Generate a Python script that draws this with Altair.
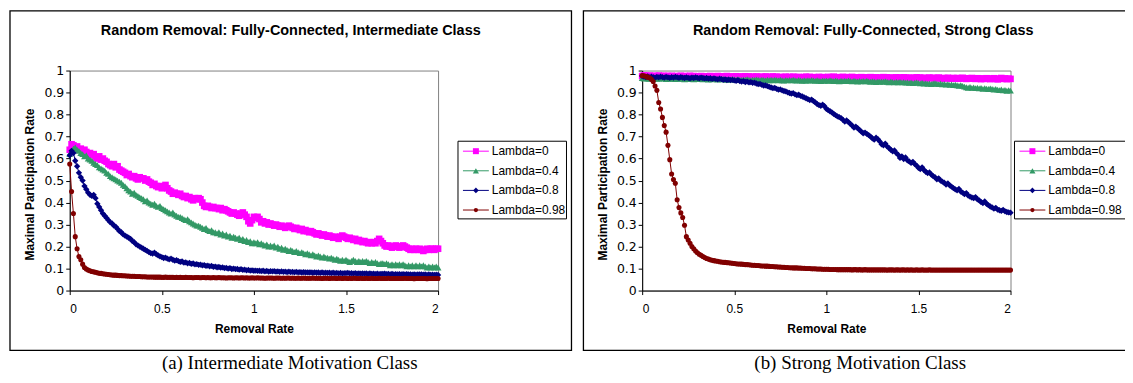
import altair as alt
import pandas as pd

# ---------------- data ----------------
REMOVAL_RATE = [round(i * 0.01, 2) for i in range(201)]
SERIES = ["Lambda=0", "Lambda=0.4", "Lambda=0.8", "Lambda=0.98"]
COLORS = ["#FF00FF", "#339966", "#000080", "#800000"]
SHAPES = ["square", "triangle-up", "diamond", "circle"]
SIZES = [44, 46, 40, 26]
Y_TICKS = [0, 0.1, 0.2, 0.3, 0.4, 0.5, 0.6, 0.7, 0.8, 0.9, 1]
X_TICKS = [0, 0.5, 1, 1.5, 2]
TITLES = ["Random Removal: Fully-Connected, Intermediate Class",
          "Random Removal: Fully-Connected, Strong Class"]
CAPTIONS = ["(a) Intermediate Motivation Class", "(b) Strong Motivation Class"]

INTER_L0 = [
    0.64, 0.665, 0.66, 0.65, 0.655, 0.64, 0.645, 0.635, 0.64, 0.63,
    0.62, 0.625, 0.615, 0.62, 0.605, 0.60, 0.61, 0.595, 0.60, 0.59,
    0.585, 0.575, 0.57, 0.565, 0.575, 0.56, 0.565, 0.55, 0.545, 0.54,
    0.535, 0.525, 0.53, 0.52, 0.515, 0.52, 0.51, 0.505, 0.515, 0.51,
    0.51, 0.50, 0.505, 0.495, 0.49, 0.48, 0.485, 0.475, 0.47, 0.475,
    0.465, 0.47, 0.48, 0.465, 0.455, 0.45, 0.44, 0.445, 0.44, 0.435,
    0.44, 0.43, 0.425, 0.43, 0.42, 0.425, 0.415, 0.41, 0.42, 0.415,
    0.42, 0.415, 0.40, 0.385, 0.38, 0.385, 0.38, 0.375, 0.38, 0.375,
    0.375, 0.37, 0.375, 0.365, 0.37, 0.365, 0.36, 0.355, 0.35, 0.355,
    0.35, 0.345, 0.34, 0.35, 0.355, 0.345, 0.335, 0.315, 0.305, 0.32,
    0.335, 0.33, 0.335, 0.325, 0.31, 0.315, 0.305, 0.31, 0.30, 0.305,
    0.30, 0.295, 0.30, 0.295, 0.29, 0.295, 0.29, 0.285, 0.29, 0.295,
    0.29, 0.285, 0.28, 0.285, 0.28, 0.275, 0.28, 0.27, 0.275, 0.27,
    0.265, 0.27, 0.265, 0.26, 0.255, 0.26, 0.255, 0.25, 0.255, 0.25,
    0.245, 0.25, 0.245, 0.24, 0.245, 0.24, 0.235, 0.245, 0.25, 0.245,
    0.24, 0.235, 0.24, 0.235, 0.23, 0.235, 0.225, 0.23, 0.225, 0.22,
    0.225, 0.22, 0.215, 0.22, 0.215, 0.22, 0.215, 0.225, 0.235, 0.225,
    0.215, 0.205, 0.20, 0.205, 0.20, 0.195, 0.20, 0.205, 0.20, 0.195,
    0.20, 0.205, 0.20, 0.195, 0.19, 0.185, 0.19, 0.185, 0.19, 0.185,
    0.19, 0.185, 0.18, 0.185, 0.19, 0.185, 0.19, 0.19, 0.185, 0.19,
    0.19,
]
INTER_L4 = [
    0.62, 0.63, 0.645, 0.65, 0.64, 0.635, 0.625, 0.62, 0.61, 0.615,
    0.60, 0.595, 0.59, 0.58, 0.575, 0.57, 0.56, 0.555, 0.55, 0.545,
    0.535, 0.53, 0.52, 0.515, 0.51, 0.505, 0.50, 0.495, 0.49, 0.48,
    0.475, 0.465, 0.455, 0.45, 0.44, 0.445, 0.435, 0.43, 0.425, 0.42,
    0.415, 0.405, 0.41, 0.40, 0.395, 0.39, 0.395, 0.385, 0.38, 0.385,
    0.375, 0.37, 0.365, 0.36, 0.355, 0.35, 0.355, 0.345, 0.34, 0.335,
    0.335, 0.33, 0.325, 0.32, 0.325, 0.315, 0.31, 0.305, 0.30, 0.295,
    0.295, 0.29, 0.285, 0.28, 0.285, 0.275, 0.27, 0.275, 0.265, 0.265,
    0.26, 0.265, 0.255, 0.26, 0.25, 0.255, 0.245, 0.25, 0.24, 0.245,
    0.24, 0.235, 0.24, 0.23, 0.235, 0.225, 0.23, 0.22, 0.225, 0.215,
    0.22, 0.215, 0.22, 0.21, 0.215, 0.21, 0.205, 0.21, 0.20, 0.205,
    0.20, 0.205, 0.195, 0.20, 0.19, 0.195, 0.185, 0.19, 0.185, 0.18,
    0.185, 0.18, 0.175, 0.18, 0.175, 0.17, 0.175, 0.17, 0.165, 0.17,
    0.165, 0.16, 0.165, 0.16, 0.155, 0.16, 0.155, 0.15, 0.155, 0.15,
    0.15, 0.145, 0.15, 0.145, 0.14, 0.145, 0.14, 0.135, 0.14, 0.135,
    0.14, 0.135, 0.13, 0.135, 0.14, 0.135, 0.13, 0.135, 0.13, 0.135,
    0.13, 0.135, 0.13, 0.125, 0.13, 0.125, 0.13, 0.125, 0.12, 0.125,
    0.125, 0.12, 0.125, 0.12, 0.115, 0.12, 0.115, 0.12, 0.115, 0.12,
    0.115, 0.12, 0.115, 0.11, 0.115, 0.11, 0.115, 0.11, 0.115, 0.11,
    0.115, 0.11, 0.115, 0.11, 0.105, 0.11, 0.105, 0.11, 0.105, 0.11,
    0.105,
]
INTER_L8 = [
    0.615, 0.635, 0.625, 0.59, 0.565, 0.535, 0.515, 0.50, 0.475, 0.46,
    0.445, 0.435, 0.43, 0.435, 0.42, 0.395, 0.38, 0.365, 0.35, 0.34,
    0.33, 0.32, 0.31, 0.305, 0.295, 0.29, 0.28, 0.27, 0.265, 0.255,
    0.25, 0.245, 0.24, 0.235, 0.225, 0.22, 0.21, 0.205, 0.20, 0.195,
    0.19, 0.185, 0.18, 0.175, 0.17, 0.168, 0.172, 0.165, 0.16, 0.155,
    0.152, 0.148, 0.15, 0.145, 0.142, 0.145, 0.14, 0.136, 0.138, 0.134,
    0.13, 0.132, 0.127, 0.128, 0.124, 0.126, 0.121, 0.123, 0.119, 0.12,
    0.117, 0.118, 0.114, 0.116, 0.112, 0.113, 0.11, 0.112, 0.108, 0.109,
    0.106, 0.107, 0.104, 0.105, 0.102, 0.103, 0.10, 0.102, 0.098, 0.10,
    0.097, 0.098, 0.095, 0.097, 0.094, 0.095, 0.092, 0.094, 0.091, 0.092,
    0.09, 0.091, 0.089, 0.09, 0.088, 0.09, 0.087, 0.089, 0.086, 0.088,
    0.087, 0.088, 0.086, 0.087, 0.085, 0.087, 0.085, 0.086, 0.084, 0.086,
    0.084, 0.085, 0.083, 0.085, 0.083, 0.084, 0.082, 0.084, 0.082, 0.083,
    0.082, 0.083, 0.081, 0.083, 0.081, 0.082, 0.08, 0.082, 0.08, 0.081,
    0.08, 0.081, 0.079, 0.081, 0.079, 0.08, 0.078, 0.08, 0.078, 0.079,
    0.079, 0.08, 0.078, 0.079, 0.077, 0.079, 0.077, 0.078, 0.077, 0.078,
    0.077, 0.078, 0.076, 0.078, 0.076, 0.077, 0.075, 0.077, 0.075, 0.076,
    0.076, 0.077, 0.075, 0.076, 0.074, 0.076, 0.074, 0.075, 0.074, 0.075,
    0.074, 0.075, 0.073, 0.075, 0.073, 0.074, 0.072, 0.074, 0.072, 0.073,
    0.073, 0.074, 0.072, 0.073, 0.071, 0.073, 0.071, 0.072, 0.071, 0.072,
    0.071,
]
INTER_L98 = [
    0.575, 0.45, 0.35, 0.245, 0.19, 0.155, 0.14, 0.12, 0.105, 0.098,
    0.093, 0.09, 0.087, 0.085, 0.083, 0.081, 0.079, 0.078, 0.076, 0.075,
    0.074, 0.073, 0.072, 0.071, 0.07, 0.07, 0.069, 0.068, 0.068, 0.067,
    0.067, 0.066, 0.066, 0.065, 0.065, 0.065, 0.064, 0.064, 0.064, 0.063,
    0.063, 0.063, 0.062, 0.062, 0.062, 0.062, 0.061, 0.061, 0.061, 0.061,
    0.06, 0.06, 0.061, 0.06, 0.06, 0.06, 0.06, 0.059, 0.06, 0.059,
    0.06, 0.059, 0.059, 0.06, 0.059, 0.059, 0.059, 0.058, 0.059, 0.059,
    0.059, 0.058, 0.059, 0.059, 0.058, 0.059, 0.058, 0.058, 0.059, 0.058,
    0.058, 0.059, 0.058, 0.058, 0.058, 0.057, 0.058, 0.058, 0.058, 0.057,
    0.058, 0.058, 0.057, 0.058, 0.058, 0.057, 0.058, 0.057, 0.057, 0.058,
    0.057, 0.057, 0.058, 0.057, 0.057, 0.057, 0.056, 0.057, 0.057, 0.057,
    0.057, 0.056, 0.057, 0.057, 0.057, 0.056, 0.057, 0.056, 0.057, 0.057,
    0.056, 0.057, 0.056, 0.056, 0.057, 0.056, 0.056, 0.057, 0.056, 0.056,
    0.056, 0.056, 0.057, 0.056, 0.056, 0.056, 0.056, 0.055, 0.056, 0.056,
    0.056, 0.055, 0.056, 0.056, 0.056, 0.055, 0.056, 0.056, 0.055, 0.056,
    0.056, 0.055, 0.056, 0.055, 0.056, 0.056, 0.055, 0.055, 0.056, 0.055,
    0.055, 0.056, 0.055, 0.055, 0.056, 0.055, 0.055, 0.055, 0.056, 0.055,
    0.055, 0.055, 0.055, 0.056, 0.055, 0.055, 0.055, 0.055, 0.055, 0.055,
    0.055, 0.055, 0.056, 0.055, 0.055, 0.055, 0.055, 0.054, 0.055, 0.055,
    0.055, 0.055, 0.055, 0.055, 0.054, 0.055, 0.055, 0.055, 0.055, 0.055,
    0.055,
]

STRONG_L0 = [
    0.975, 0.978, 0.976, 0.974, 0.977, 0.975, 0.973, 0.976, 0.974, 0.977,
    0.975, 0.972, 0.976, 0.974, 0.975, 0.973, 0.976, 0.974, 0.972, 0.975,
    0.974, 0.976, 0.973, 0.975, 0.972, 0.974, 0.976, 0.973, 0.975, 0.972,
    0.974, 0.972, 0.975, 0.973, 0.971, 0.974, 0.972, 0.975, 0.973, 0.971,
    0.973, 0.975, 0.972, 0.974, 0.971, 0.973, 0.975, 0.972, 0.970, 0.973,
    0.972, 0.974, 0.971, 0.973, 0.970, 0.972, 0.974, 0.971, 0.973, 0.970,
    0.972, 0.970, 0.973, 0.971, 0.969, 0.972, 0.970, 0.973, 0.971, 0.969,
    0.971, 0.973, 0.970, 0.972, 0.969, 0.971, 0.968, 0.970, 0.972, 0.969,
    0.971, 0.969, 0.972, 0.970, 0.968, 0.971, 0.969, 0.967, 0.970, 0.972,
    0.969, 0.971, 0.968, 0.970, 0.967, 0.969, 0.971, 0.968, 0.970, 0.967,
    0.969, 0.971, 0.968, 0.970, 0.972, 0.969, 0.967, 0.970, 0.968, 0.971,
    0.968, 0.970, 0.967, 0.969, 0.971, 0.968, 0.966, 0.969, 0.967, 0.970,
    0.968, 0.966, 0.969, 0.967, 0.970, 0.968, 0.966, 0.969, 0.967, 0.965,
    0.968, 0.970, 0.967, 0.969, 0.966, 0.968, 0.965, 0.967, 0.969, 0.966,
    0.968, 0.966, 0.969, 0.967, 0.965, 0.968, 0.966, 0.964, 0.967, 0.969,
    0.966, 0.968, 0.965, 0.967, 0.964, 0.966, 0.968, 0.965, 0.967, 0.964,
    0.966, 0.968, 0.965, 0.963, 0.966, 0.964, 0.967, 0.965, 0.963, 0.966,
    0.964, 0.966, 0.963, 0.965, 0.967, 0.964, 0.962, 0.965, 0.963, 0.966,
    0.964, 0.962, 0.965, 0.963, 0.961, 0.964, 0.962, 0.965, 0.963, 0.961,
    0.963, 0.965, 0.962, 0.960, 0.963, 0.966, 0.962, 0.964, 0.961, 0.963,
    0.962,
]
STRONG_L4 = [
    0.966, 0.963, 0.967, 0.964, 0.962, 0.966, 0.963, 0.965, 0.962, 0.964,
    0.966, 0.963, 0.965, 0.961, 0.964, 0.962, 0.965, 0.963, 0.961, 0.964,
    0.962, 0.965, 0.963, 0.960, 0.963, 0.961, 0.964, 0.962, 0.960, 0.963,
    0.961, 0.964, 0.962, 0.960, 0.963, 0.961, 0.959, 0.962, 0.960, 0.963,
    0.961, 0.959, 0.962, 0.960, 0.963, 0.960, 0.958, 0.961, 0.959, 0.962,
    0.960, 0.958, 0.961, 0.959, 0.957, 0.960, 0.958, 0.961, 0.958, 0.956,
    0.959, 0.957, 0.960, 0.958, 0.956, 0.959, 0.957, 0.955, 0.958, 0.956,
    0.958, 0.956, 0.959, 0.957, 0.955, 0.958, 0.956, 0.954, 0.957, 0.955,
    0.957, 0.955, 0.958, 0.956, 0.954, 0.957, 0.955, 0.953, 0.956, 0.954,
    0.956, 0.954, 0.957, 0.955, 0.953, 0.956, 0.954, 0.952, 0.955, 0.953,
    0.955, 0.953, 0.956, 0.954, 0.952, 0.955, 0.953, 0.951, 0.954, 0.952,
    0.954, 0.952, 0.955, 0.953, 0.951, 0.954, 0.952, 0.950, 0.953, 0.951,
    0.953, 0.951, 0.954, 0.951, 0.949, 0.952, 0.950, 0.948, 0.951, 0.949,
    0.951, 0.949, 0.952, 0.949, 0.947, 0.950, 0.948, 0.946, 0.949, 0.947,
    0.949, 0.946, 0.948, 0.945, 0.947, 0.944, 0.946, 0.943, 0.945, 0.947,
    0.944, 0.942, 0.945, 0.941, 0.943, 0.940, 0.942, 0.939, 0.941, 0.943,
    0.940, 0.938, 0.941, 0.937, 0.939, 0.936, 0.938, 0.935, 0.937, 0.934,
    0.936, 0.933, 0.931, 0.934, 0.930, 0.927, 0.924, 0.922, 0.925, 0.921,
    0.923, 0.920, 0.922, 0.919, 0.921, 0.917, 0.920, 0.918, 0.916, 0.919,
    0.917, 0.914, 0.916, 0.913, 0.911, 0.914, 0.910, 0.912, 0.908, 0.911,
    0.909,
]
STRONG_L8 = [
    0.975, 0.972, 0.970, 0.973, 0.969, 0.972, 0.970, 0.968, 0.971, 0.969,
    0.972, 0.970, 0.968, 0.971, 0.969, 0.967, 0.970, 0.968, 0.971, 0.969,
    0.967, 0.970, 0.968, 0.966, 0.969, 0.967, 0.965, 0.968, 0.966, 0.969,
    0.967, 0.965, 0.968, 0.966, 0.964, 0.966, 0.963, 0.965, 0.962, 0.964,
    0.962, 0.960, 0.963, 0.961, 0.958, 0.960, 0.957, 0.959, 0.956, 0.958,
    0.955, 0.953, 0.956, 0.952, 0.950, 0.952, 0.948, 0.950, 0.946, 0.947,
    0.944, 0.945, 0.941, 0.938, 0.939, 0.935, 0.932, 0.933, 0.929, 0.926,
    0.923, 0.920, 0.921, 0.917, 0.913, 0.914, 0.910, 0.907, 0.905, 0.901,
    0.898, 0.895, 0.897, 0.892, 0.888, 0.890, 0.885, 0.882, 0.878, 0.874,
    0.870, 0.866, 0.868, 0.861, 0.855, 0.848, 0.843, 0.840, 0.845, 0.838,
    0.826, 0.820, 0.815, 0.810, 0.803, 0.797, 0.792, 0.788, 0.784, 0.776,
    0.768, 0.773, 0.766, 0.758, 0.750, 0.741, 0.745, 0.738, 0.730, 0.722,
    0.715, 0.718, 0.712, 0.706, 0.700, 0.692, 0.686, 0.695, 0.688, 0.678,
    0.665, 0.660, 0.668, 0.655, 0.648, 0.640, 0.633, 0.637, 0.625, 0.617,
    0.603, 0.610, 0.598, 0.605, 0.592, 0.587, 0.580, 0.585, 0.575, 0.568,
    0.558, 0.552, 0.560, 0.548, 0.540, 0.534, 0.537, 0.527, 0.520, 0.515,
    0.506, 0.510, 0.500, 0.495, 0.490, 0.482, 0.487, 0.478, 0.472, 0.466,
    0.460, 0.456, 0.462, 0.450, 0.445, 0.438, 0.443, 0.432, 0.427, 0.423,
    0.420, 0.425, 0.415, 0.410, 0.402, 0.398, 0.405, 0.394, 0.388, 0.382,
    0.378, 0.372, 0.376, 0.368, 0.365, 0.362, 0.367, 0.360, 0.357, 0.355,
    0.354,
]
STRONG_L98 = [
    0.977, 0.976, 0.974, 0.970, 0.967, 0.960, 0.950, 0.930, 0.910, 0.855,
    0.825, 0.787, 0.750, 0.720, 0.660, 0.595, 0.530, 0.505, 0.488, 0.413,
    0.377, 0.353, 0.332, 0.297, 0.245, 0.230, 0.215, 0.200, 0.190, 0.180,
    0.172, 0.165, 0.160, 0.155, 0.150, 0.146, 0.143, 0.140, 0.138, 0.136,
    0.134, 0.133, 0.131, 0.130, 0.129, 0.128, 0.127, 0.126, 0.125, 0.124,
    0.123, 0.122, 0.121, 0.121, 0.120, 0.119, 0.118, 0.118, 0.117, 0.116,
    0.115, 0.115, 0.114, 0.114, 0.113, 0.112, 0.112, 0.111, 0.111, 0.110,
    0.109, 0.109, 0.108, 0.108, 0.107, 0.107, 0.106, 0.106, 0.105, 0.105,
    0.104, 0.104, 0.103, 0.103, 0.103, 0.102, 0.102, 0.101, 0.101, 0.100,
    0.100, 0.100, 0.099, 0.099, 0.099, 0.098, 0.098, 0.098, 0.097, 0.097,
    0.097, 0.097, 0.096, 0.096, 0.096, 0.096, 0.095, 0.095, 0.095, 0.095,
    0.095, 0.095, 0.095, 0.095, 0.094, 0.095, 0.095, 0.094, 0.095, 0.094,
    0.094, 0.095, 0.094, 0.094, 0.094, 0.094, 0.094, 0.094, 0.094, 0.094,
    0.094, 0.094, 0.094, 0.093, 0.094, 0.094, 0.094, 0.093, 0.094, 0.094,
    0.093, 0.094, 0.094, 0.093, 0.094, 0.093, 0.094, 0.093, 0.093, 0.094,
    0.093, 0.093, 0.094, 0.093, 0.093, 0.093, 0.094, 0.093, 0.093, 0.093,
    0.093, 0.093, 0.093, 0.093, 0.093, 0.093, 0.093, 0.093, 0.093, 0.093,
    0.093, 0.093, 0.093, 0.093, 0.093, 0.093, 0.093, 0.093, 0.093, 0.093,
    0.093, 0.093, 0.093, 0.093, 0.093, 0.093, 0.093, 0.093, 0.093, 0.093,
    0.093, 0.093, 0.093, 0.093, 0.093, 0.093, 0.093, 0.093, 0.093, 0.093,
    0.093,
]

PANELS = [
    [INTER_L0, INTER_L4, INTER_L8, INTER_L98],
    [STRONG_L0, STRONG_L4, STRONG_L8, STRONG_L98],
]

# ---------------- layout (pixels, relative to each plot area) -------------
W, H = 370, 221
ONE = alt.Data(values=[{"k": 0}])


def make_panel(idx):
    frame_l = -60 if idx == 0 else -59
    frame_r = 504 if idx == 0 else 506
    leg_dx = 0 if idx == 0 else -16       # right legend nudged so its text stays visible
    leg_right = 499
    layers = []
    layers.append(
        alt.Chart(ONE).mark_rect(fill="white", fillOpacity=0, stroke="black", strokeWidth=1.3)
        .encode(x=alt.value(frame_l), x2=alt.value(frame_r), y=alt.value(-60), y2=alt.value(281))
    )
    layers.append(
        alt.Chart(ONE).mark_text(fontSize=14.5, fontWeight="bold", align="center",
                                 baseline="middle", color="black")
        .encode(x=alt.value(222), y=alt.value(-40), text=alt.value(TITLES[idx]))
    )
    layers.append(
        alt.Chart(ONE).mark_text(fontSize=19, font="Liberation Serif", align="center",
                                 baseline="middle", color="black")
        .encode(x=alt.value(221 if idx == 0 else 219), y=alt.value(294), text=alt.value(CAPTIONS[idx]))
    )

    xs = alt.Scale(domain=[0, 2], nice=False, zero=False)
    ys = alt.Scale(domain=[0, 1], nice=False)
    xaxis = alt.Axis(values=X_TICKS, format="~g", title="Removal Rate", grid=False,
                     tickSize=4, labelPadding=9, labelFontSize=12,
                     titleY=38, titleBaseline="middle",
                     titleFontSize=12, titleFontWeight="bold")
    yaxis = alt.Axis(values=Y_TICKS, format="~g", title="Maximal Participation Rate", grid=False,
                     tickSize=4, labelPadding=2, labelFont="DejaVu Sans", labelFontSize=12.5,
                     titleX=-40, titleY=114, titleAngle=270,
                     titleAlign="center", titleBaseline="middle",
                     titleFontSize=12, titleFontWeight="bold")

    for s, values in enumerate(PANELS[idx]):
        df = pd.DataFrame({"rate": REMOVAL_RATE, "value": values, "series": SERIES[s]})
        enc = dict(x=alt.X("rate:Q", scale=xs, axis=xaxis),
                   y=alt.Y("value:Q", scale=ys, axis=yaxis))
        layers.append(alt.Chart(df).mark_line(color=COLORS[s], strokeWidth=1).encode(**enc))
        layers.append(
            alt.Chart(df).mark_point(shape=SHAPES[s], filled=True, size=SIZES[s],
                                     color=COLORS[s], opacity=1).encode(**enc)
        )

    layers.append(
        alt.Chart(ONE).mark_rect(fill="white", stroke="black", strokeWidth=1)
        .encode(x=alt.value(390 + leg_dx), x2=alt.value(leg_right), y=alt.value(71), y2=alt.value(149))
    )
    for s in range(4):
        yr = 81 + s * 19.7
        layers.append(
            alt.Chart(ONE).mark_rule(color=COLORS[s], strokeWidth=1)
            .encode(x=alt.value(395 + leg_dx), x2=alt.value(421 + leg_dx), y=alt.value(yr))
        )
        layers.append(
            alt.Chart(ONE).mark_point(shape=SHAPES[s], filled=True, size=SIZES[s] - 8,
                                      color=COLORS[s], opacity=1)
            .encode(x=alt.value(408 + leg_dx), y=alt.value(yr))
        )
        layers.append(
            alt.Chart(ONE).mark_text(fontSize=12, align="left", baseline="middle", color="black")
            .encode(x=alt.value(424 + leg_dx), y=alt.value(yr), text=alt.value(SERIES[s]))
        )
    return alt.layer(*layers).properties(width=W, height=H)


chart = (
    alt.hconcat(make_panel(0), make_panel(1), spacing=8)
    .properties(padding={"left": 0, "top": 0, "right": -23, "bottom": 0})
    .configure(font="Liberation Sans")
    .configure_view(stroke="#808080", strokeWidth=1)
    .configure_axis(labelFont="Liberation Sans", titleFont="Liberation Sans",
                    labelColor="black", titleColor="black",
                    domainColor="black", tickColor="black", domainWidth=1, tickWidth=1)
)

chart.save("out.html", embed_options={"renderer": "svg", "actions": False})
